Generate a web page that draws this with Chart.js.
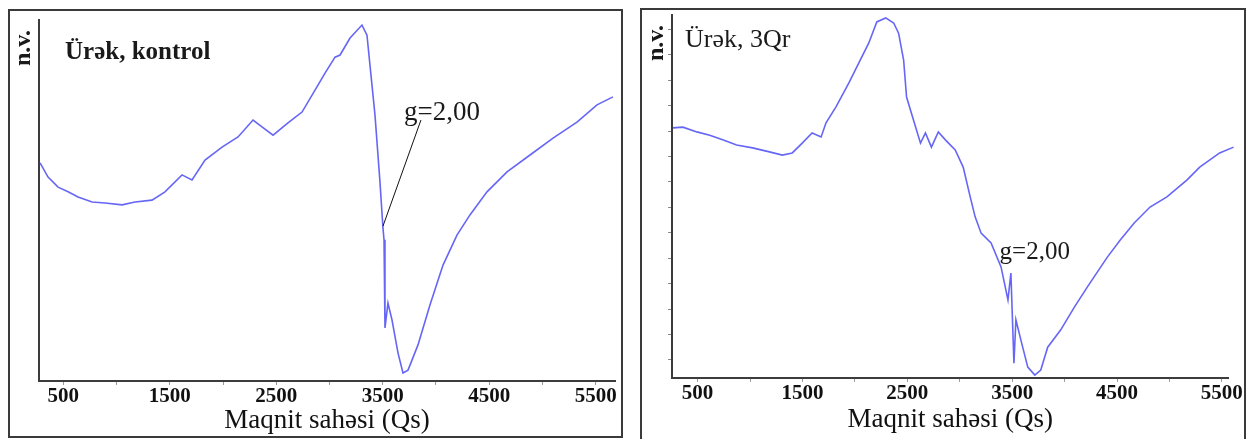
<!DOCTYPE html>
<html>
<head>
<meta charset="utf-8">
<script src="https://cdn.jsdelivr.net/npm/chart.js@4"></script>
<style>
  body { margin: 0; background: #fff; width: 1254px; height: 439px; overflow: hidden; position: relative; }
  .panel { position: absolute; border: 2px solid #3a3a3a; box-sizing: border-box; }
  .panel canvas { display: block; }
</style>
</head>
<body>
<div class="panel" style="left:8px; top:9px; width:615px; height:429px;"><canvas id="leftChart"></canvas></div>
<div class="panel" style="left:640px; top:8px; width:606px; height:433px;"><canvas id="rightChart"></canvas></div>
<script>
// Ürək, kontrol
const leftQs = [282, 357, 451, 545, 639, 770, 892, 1052, 1174, 1333, 1455, 1615, 1709, 1831, 1991, 2141,
  2282, 2366, 2470, 2610, 2742, 2864, 2958, 3052, 3099, 3193, 3305, 3352, 3380, 3427, 3474, 3502,
  3512, 3521, 3549, 3587, 3643, 3690, 3737, 3756, 3831, 3944, 4066, 4197, 4319, 4479, 4667, 4883,
  5099, 5324, 5512, 5662];
const leftNv = [60.4, 56.5, 53.7, 52.4, 51.0, 49.6, 49.3, 48.8, 49.6, 50.1, 52.4, 57.1, 55.7, 61.2, 64.8, 67.6,
  72.3, 70.4, 68.1, 71.5, 74.5, 80.6, 85.3, 89.7, 90.3, 95.0, 98.6, 95.8, 87.5, 73.7, 55.1, 42.4,
  39.1, 14.7, 21.6, 16.9, 7.8, 2.2, 3.0, 4.4, 10.0, 21.1, 32.1, 40.4, 46.0, 52.4, 57.9, 62.6,
  67.3, 71.7, 76.5, 78.7];

// Ürək, 3Qr
const rightQs = [265, 360, 493, 616, 739, 872, 1024, 1185, 1308, 1403, 1498, 1592, 1678, 1725, 1820, 1943,
  2038, 2133, 2209, 2294, 2370, 2417, 2465, 2493, 2559, 2626, 2673, 2730, 2796, 2863, 2957, 3033,
  3100, 3147, 3204, 3299, 3394, 3460, 3488, 3517, 3536, 3583, 3649, 3716, 3773, 3839, 3962, 4095,
  4218, 4408, 4531, 4664, 4815, 4976, 5166, 5289, 5479, 5612];
const rightNv = [68.9, 69.1, 67.8, 66.9, 65.6, 64.2, 63.4, 62.3, 61.4, 62.0, 64.7, 67.5, 66.4, 70.3, 74.7, 81.3,
  86.8, 92.3, 98.1, 99.2, 97.8, 95.0, 87.6, 77.4, 71.1, 64.7, 67.5, 63.6, 67.8, 65.6, 62.8, 58.1,
  49.9, 44.4, 39.9, 37.2, 30.6, 21.5, 28.9, 4.1, 16.0, 10.5, 3.0, 0.8, 2.2, 8.5, 13.2, 19.6,
  25.1, 33.3, 38.0, 42.7, 47.1, 49.9, 54.5, 58.1, 62.0, 63.6];

const xTicks = [500, 1000, 1500, 2000, 2500, 3000, 3500, 4000, 4500, 5000, 5500];
const xLabels = [500, 1500, 2500, 3500, 4500, 5500];
const rightYTicks = [5, 12, 19, 26, 33, 40, 47, 54, 61, 68, 75, 82, 89, 96];

const serif = "'Liberation Serif', 'Times New Roman', serif";

// panel texts: title, n.v., g=2,00 and its leader
const notes = {
  id: 'notes',
  afterDatasetsDraw(chart, args, o) {
    const { ctx, chartArea, scales: { x, y } } = chart;
    ctx.save();
    ctx.fillStyle = '#1a1a1a';
    ctx.textBaseline = 'middle';
    ctx.textAlign = 'left';
    ctx.font = o.titleFont;
    ctx.fillText(o.title, chartArea.left + o.titleDx, chartArea.top + o.titleDy);

    ctx.save();
    ctx.translate(chartArea.left - 15, chartArea.top + 28);
    ctx.rotate(-Math.PI / 2);
    ctx.textAlign = 'center';
    ctx.font = 'bold 24px ' + serif;
    ctx.fillText('n.v.', 0, 0);
    ctx.restore();

    ctx.textAlign = 'center';
    ctx.font = o.gFont;
    ctx.fillText('g=2,00', x.getPixelForValue(o.gAt[0]), y.getPixelForValue(o.gAt[1]));

    if (o.leader) {
      ctx.strokeStyle = '#111';
      ctx.lineWidth = 1;
      ctx.beginPath();
      ctx.moveTo(x.getPixelForValue(o.leader[0]), y.getPixelForValue(o.leader[1]));
      ctx.lineTo(x.getPixelForValue(o.leader[2]), y.getPixelForValue(o.leader[3]));
      ctx.stroke();
    }
    ctx.restore();
  }
};

function makeChart(id, qs, nv, cfg) {
  return new Chart(document.getElementById(id), {
    type: 'line',
    data: {
      datasets: [{
        data: qs.map((q, i) => ({ x: q, y: nv[i] })),
        borderColor: 'rgba(75, 75, 245, 0.85)',
        borderWidth: 1.6,
        pointRadius: 0,
        tension: 0,
        clip: false
      }]
    },
    options: {
      responsive: true,
      maintainAspectRatio: false,
      animation: false,
      events: [],
      layout: { padding: cfg.padding },
      plugins: {
        legend: { display: false },
        tooltip: { enabled: false },
        notes: cfg.notes
      },
      scales: {
        x: {
          type: 'linear',
          min: cfg.xMin,
          max: cfg.xMax,
          afterBuildTicks: s => { s.ticks = xTicks.map(v => ({ value: v })); },
          afterFit: s => { s.height = cfg.xHeight; },
          ticks: {
            autoSkip: false,
            maxRotation: 0,
            padding: 1,
            color: '#111',
            font: { family: serif, size: 21, weight: 'bold', lineHeight: 1.0 },
            callback: v => xLabels.includes(v) ? String(v) : ''
          },
          grid: { drawOnChartArea: false, drawTicks: true, tickLength: 4, color: '#9a9a9a' },
          border: { display: true, color: '#3c3c3c', width: 2 },
          title: {
            display: true,
            text: 'Maqnit sahəsi (Qs)',
            color: '#111',
            font: { family: serif, size: 27, lineHeight: 1.1 },
            padding: { top: 0, bottom: cfg.titlePad }
          }
        },
        y: {
          min: 0,
          max: 100,
          afterBuildTicks: s => { s.ticks = cfg.yTicks.map(v => ({ value: v })); },
          afterFit: s => { s.width = cfg.yWidth; },
          ticks: { display: false },
          grid: { drawOnChartArea: false, drawTicks: cfg.yTicks.length > 0, tickLength: 4, color: '#8a8a8a' },
          border: { display: true, color: '#3c3c3c', width: 2 }
        }
      }
    },
    plugins: [notes]
  });
}

makeChart('leftChart', leftQs, leftNv, {
  xMin: 272, xMax: 5681,
  yWidth: 29, xHeight: 55, titlePad: 0,
  padding: { left: 0, top: 9, right: 6, bottom: 0 },
  yTicks: [],
  notes: {
    title: 'Ürək, kontrol', titleFont: 'bold 25px ' + serif, titleDx: 26, titleDy: 33,
    gFont: '27px ' + serif, gAt: [4057, 74.2],
    leader: [3859, 72.3, 3502, 42.9]
  }
});

makeChart('rightChart', rightQs, rightNv, {
  xMin: 256, xMax: 5564,
  yWidth: 30, xHeight: 61, titlePad: 4,
  padding: { left: 0, top: 5, right: 12, bottom: 0 },
  yTicks: rightYTicks,
  notes: {
    title: 'Ürək, 3Qr', titleFont: '26px ' + serif, titleDx: 13, titleDy: 25,
    gFont: '25px ' + serif, gAt: [3716, 34.7],
    leader: null
  }
});
</script>
</body>
</html>
